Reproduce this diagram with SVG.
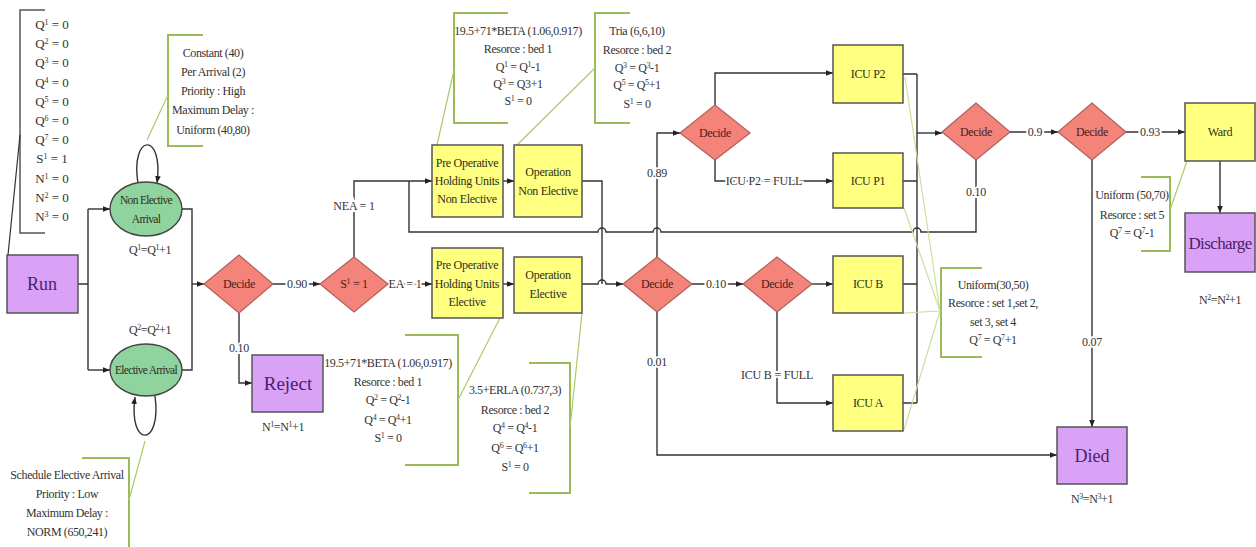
<svg xmlns="http://www.w3.org/2000/svg" width="1256" height="547" viewBox="0 0 1256 547" font-family="'Liberation Serif', 'Times New Roman', serif">
<style>
.ln{fill:none;stroke:#333;stroke-width:1.4}
.gb{fill:none;stroke:#9bbb59;stroke-width:2}
.gl{fill:none;stroke:#a9cc6a;stroke-width:1.2}
.gl2{fill:none;stroke:#c8e29a;stroke-width:1.2}
text{font-family:"Liberation Serif","Times New Roman",serif;text-anchor:middle;fill:#333}
.t{font-size:12px;letter-spacing:-0.4px}
.v{font-size:13px}
.lb{font-size:12px;letter-spacing:-0.2px;paint-order:stroke;stroke:#fff;stroke-width:4px}
.nt{font-size:12px;letter-spacing:-0.3px;fill:#2f2f20}
.et{font-size:11.5px;letter-spacing:-0.7px;fill:#2f2f20}
.dt{font-size:12px;letter-spacing:-0.3px;fill:#4a1d1d}
.pt{fill:#4b1d6b}
.y{fill:#ffff80;stroke:#555;stroke-width:1.5}
.p{fill:#d9a2f7;stroke:#555;stroke-width:1.5}
.d{fill:#f4847a;stroke:#b0605a;stroke-width:1.2}
.e{fill:#8fd39f;stroke:#444;stroke-width:1.4}
.s{font-size:8px;baseline-shift:super}
</style>
<defs>
<marker id="ah" viewBox="0 0 10 10" refX="10" refY="5" markerWidth="7" markerHeight="7" orient="auto" markerUnits="userSpaceOnUse"><path d="M0,1 L10,5 L0,9z" fill="#222"/></marker>
</defs>

<g id="connectors">
<path class="ln" d="M78,284 H88 M88,209 V370"/>
<path class="ln" marker-end="url(#ah)" d="M88,209 H110"/>
<path class="ln" marker-end="url(#ah)" d="M88,370 H110"/>
<path class="ln" d="M182,209 H192 V370 H182"/>
<path class="ln" marker-end="url(#ah)" d="M192,284 H204"/>
<path class="ln" marker-end="url(#ah)" d="M138,184 C130,132 164,132 157,183"/>
<path class="ln" marker-end="url(#ah)" d="M155,396 C162,448 128,448 135,397"/>
<path class="ln" marker-end="url(#ah)" d="M273,284 H320"/>
<path class="ln" marker-end="url(#ah)" d="M239,313 V383 H252"/>
<path class="ln" marker-end="url(#ah)" d="M354,257 V181 H432"/>
<path class="ln" marker-end="url(#ah)" d="M388,284 H432"/>
<path class="ln" marker-end="url(#ah)" d="M503,181 H514"/>
<path class="ln" marker-end="url(#ah)" d="M503,284 H514"/>
<path class="ln" d="M582,181 H602 V284"/>
<path class="ln" marker-end="url(#ah)" d="M582,284 H598 a4,4 0 0 1 8,0 H623"/>
<path class="ln" d="M976,160 V232 H921 a4,4 0 0 0 -8,0 H661 a4,4 0 0 0 -8,0 H606 a4,4 0 0 0 -8,0 H409 V181"/>
<path class="ln" marker-end="url(#ah)" d="M657,257 V133 H680"/>
<path class="ln" marker-end="url(#ah)" d="M692,284 H743"/>
<path class="ln" marker-end="url(#ah)" d="M657,312 V455 H1057"/>
<path class="ln" marker-end="url(#ah)" d="M715,105 V73 H833"/>
<path class="ln" marker-end="url(#ah)" d="M715,160 V181 H833"/>
<path class="ln" marker-end="url(#ah)" d="M812,284 H833"/>
<path class="ln" marker-end="url(#ah)" d="M777,312 V403 H833"/>
<path class="ln" d="M903,74 H917 M903,181 H917 M903,284 H917 M903,403 H917 M917,74 V403"/>
<path class="ln" marker-end="url(#ah)" d="M917,133 H942"/>
<path class="ln" marker-end="url(#ah)" d="M1010,132 H1058"/>
<path class="ln" marker-end="url(#ah)" d="M1126,132 H1185"/>
<path class="ln" marker-end="url(#ah)" d="M1092,160 V427"/>
<path class="ln" marker-end="url(#ah)" d="M1220,161 V213"/>
<text class="lb" x="297" y="288">0.90</text>
<text class="lb" x="239" y="352">0.10</text>
<text class="lb" x="354" y="210">NEA = 1</text>
<text class="lb" x="405" y="288">EA = 1</text>
<text class="lb" x="657" y="177">0.89</text>
<text class="lb" x="716" y="288">0.10</text>
<text class="lb" x="657" y="366">0.01</text>
<text class="lb" x="764" y="185">ICU P2 = FULL</text>
<text class="lb" x="777" y="379">ICU B = FULL</text>
<text class="lb" x="976" y="196">0.10</text>
<text class="lb" x="1035" y="136">0.9</text>
<text class="lb" x="1150" y="136">0.93</text>
<text class="lb" x="1092" y="346">0.07</text>
</g>

<g id="annotations">
<path d="M45,10 H20 V233 H45" fill="none" stroke="#555" stroke-width="1.5"/>
<path d="M20,135 L8,255" fill="none" stroke="#333" stroke-width="1.2"/>
<g class="v">
<text x="52" y="29">Q<tspan class="s">1</tspan> = 0</text>
<text x="52" y="48">Q<tspan class="s">2</tspan> = 0</text>
<text x="52" y="67">Q<tspan class="s">3</tspan> = 0</text>
<text x="52" y="87">Q<tspan class="s">4</tspan> = 0</text>
<text x="52" y="106">Q<tspan class="s">5</tspan> = 0</text>
<text x="52" y="125">Q<tspan class="s">6</tspan> = 0</text>
<text x="52" y="144">Q<tspan class="s">7</tspan> = 0</text>
<text x="52" y="163">S<tspan class="s">1</tspan> = 1</text>
<text x="52" y="183">N<tspan class="s">1</tspan> = 0</text>
<text x="52" y="202">N<tspan class="s">2</tspan> = 0</text>
<text x="52" y="221">N<tspan class="s">3</tspan> = 0</text>
</g>

<path class="gb" d="M203,35 H168 V146 H203"/>
<path class="gl" d="M168,95 L147,140"/>
<g class="t">
<text x="213" y="57">Constant (40)</text>
<text x="213" y="76">Per Arrival (2)</text>
<text x="213" y="95">Priority : High</text>
<text x="213" y="114">Maximum Delay :</text>
<text x="213" y="134">Uniform (40,80)</text>
</g>

<path class="gb" d="M82,458 H129 V547"/>
<path class="gl" d="M129,500 L145,441"/>
<g class="t">
<text x="67" y="479">Schedule Elective Arrival</text>
<text x="67" y="498">Priority : Low</text>
<text x="67" y="517">Maximum Delay :</text>
<text x="67" y="536">NORM (650,241)</text>
</g>

<path class="gb" d="M508,13 H454 V123 H508"/>
<path class="gl" d="M454,70 L437,145"/>
<g class="t">
<text x="518" y="35">19.5+71*BETA (1.06,0.917)</text>
<text x="518" y="53">Resorce : bed 1</text>
<text x="518" y="71">Q<tspan class="s">1</tspan> = Q<tspan class="s">1</tspan>-1</text>
<text x="518" y="88">Q<tspan class="s">3</tspan> = Q3+1</text>
<text x="518" y="105">S<tspan class="s">1</tspan> = 0</text>
</g>

<path class="gb" d="M630,13 H595 V123 H630"/>
<path class="gl" d="M595,68 L517,145"/>
<g class="t">
<text x="637" y="35">Tria (6,6,10)</text>
<text x="637" y="54">Resorce : bed 2</text>
<text x="637" y="72">Q<tspan class="s">3</tspan> = Q<tspan class="s">3</tspan>-1</text>
<text x="637" y="89">Q<tspan class="s">5</tspan> = Q<tspan class="s">5</tspan>+1</text>
<text x="637" y="108">S<tspan class="s">1</tspan> = 0</text>
</g>

<path class="gb" d="M405,335 H458 V465 H405"/>
<path class="gl" d="M458,400 L500,318"/>
<g class="t">
<text x="388" y="367">19.5+71*BETA (1.06,0.917)</text>
<text x="388" y="386">Resorce : bed 1</text>
<text x="388" y="404">Q<tspan class="s">2</tspan> = Q<tspan class="s">2</tspan>-1</text>
<text x="388" y="424">Q<tspan class="s">4</tspan> = Q<tspan class="s">4</tspan>+1</text>
<text x="388" y="442">S<tspan class="s">1</tspan> = 0</text>
</g>

<path class="gb" d="M529,363 H570 V493 H529"/>
<path class="gl" d="M570,428 L582,313"/>
<g class="t">
<text x="515" y="394">3.5+ERLA (0.737,3)</text>
<text x="515" y="414">Resorce : bed 2</text>
<text x="515" y="432">Q<tspan class="s">4</tspan> = Q<tspan class="s">4</tspan>-1</text>
<text x="515" y="452">Q<tspan class="s">6</tspan> = Q<tspan class="s">6</tspan>+1</text>
<text x="515" y="471">S<tspan class="s">1</tspan> = 0</text>
</g>

<path class="gb" d="M982,268 H941 V357 H982"/>
<path class="gl2" d="M905,77 L940,311 M904,208 L940,311 M904,313 L940,311 M904,430 L940,311"/>
<g class="t">
<text x="993" y="289">Uniform(30,50)</text>
<text x="993" y="307">Resorce : set 1,set 2,</text>
<text x="993" y="326">set 3, set 4</text>
<text x="993" y="344">Q<tspan class="s">7</tspan> = Q<tspan class="s">7</tspan>+1</text>
</g>

<path class="gb" d="M1141,177 H1170 V251 H1141"/>
<path class="gl" d="M1170,210 L1187,161"/>
<g class="t">
<text x="1132" y="199">Uniform (50,70)</text>
<text x="1132" y="219">Resorce : set 5</text>
<text x="1132" y="237">Q<tspan class="s">7</tspan> = Q<tspan class="s">7</tspan>-1</text>
</g>
</g>

<g id="run"><rect class="p" x="7" y="255" width="71" height="58"/><text class="pt" x="42" y="290" font-size="18">Run</text></g>
<g id="non-elective-arrival"><ellipse class="e" cx="146" cy="209" rx="36" ry="27"/><text class="et" x="146" y="204">Non Elective</text><text class="et" x="146" y="223">Arrival</text>
<text class="t" x="150" y="254">Q<tspan class="s">1</tspan>=Q<tspan class="s">1</tspan>+1</text></g>
<g id="elective-arrival"><ellipse class="e" cx="146" cy="370" rx="36" ry="26"/><text class="et" x="146" y="374">Elective Arrival</text>
<text class="t" x="150" y="334">Q<tspan class="s">2</tspan>=Q<tspan class="s">2</tspan>+1</text></g>
<g id="decide-1"><polygon class="d" points="204,284 239,255 273,284 239,313"/><text class="dt" x="239" y="288">Decide</text></g>
<g id="reject"><rect class="p" x="252" y="355" width="71" height="57"/><text class="pt" x="288" y="390" font-size="19">Reject</text>
<text class="t" x="283" y="431">N<tspan class="s">1</tspan>=N<tspan class="s">1</tspan>+1</text></g>
<g id="s1"><polygon class="d" points="320,284 354,257 388,284 354,312"/><text class="dt" x="354" y="288">S<tspan class="s">1</tspan> = 1</text></g>
<g id="preop-ne"><rect class="y" x="432" y="145" width="71" height="72"/><text class="nt" x="467" y="167">Pre Operative</text><text class="nt" x="467" y="185">Holding Units</text><text class="nt" x="467" y="203">Non Elective</text></g>
<g id="op-ne"><rect class="y" x="514" y="145" width="68" height="72"/><text class="nt" x="548" y="176">Operation</text><text class="nt" x="548" y="195">Non Elective</text></g>
<g id="preop-e"><rect class="y" x="432" y="248" width="71" height="70"/><text class="nt" x="467" y="269">Pre Operative</text><text class="nt" x="467" y="288">Holding Units</text><text class="nt" x="467" y="306">Elective</text></g>
<g id="op-e"><rect class="y" x="514" y="257" width="68" height="56"/><text class="nt" x="548" y="279">Operation</text><text class="nt" x="548" y="298">Elective</text></g>
<g id="decide-2"><polygon class="d" points="623,284 657,257 692,284 657,312"/><text class="dt" x="657" y="288">Decide</text></g>
<g id="decide-3"><polygon class="d" points="680,133 715,105 750,133 715,160"/><text class="dt" x="715" y="137">Decide</text></g>
<g id="decide-4"><polygon class="d" points="743,284 777,257 812,284 777,312"/><text class="dt" x="777" y="288">Decide</text></g>
<g id="icu-p2"><rect class="y" x="833" y="45" width="70" height="58"/><text class="nt" x="868" y="78">ICU P2</text></g>
<g id="icu-p1"><rect class="y" x="833" y="153" width="70" height="55"/><text class="nt" x="868" y="185">ICU P1</text></g>
<g id="icu-b"><rect class="y" x="833" y="256" width="70" height="57"/><text class="nt" x="868" y="288">ICU B</text></g>
<g id="icu-a"><rect class="y" x="833" y="375" width="70" height="56"/><text class="nt" x="868" y="407">ICU A</text></g>
<g id="decide-5"><polygon class="d" points="942,132 976,103 1010,132 976,160"/><text class="dt" x="976" y="136">Decide</text></g>
<g id="decide-6"><polygon class="d" points="1058,132 1092,103 1126,132 1092,160"/><text class="dt" x="1092" y="136">Decide</text></g>
<g id="ward"><rect class="y" x="1185" y="103" width="70" height="58"/><text class="nt" x="1220" y="136">Ward</text></g>
<g id="discharge"><rect class="p" x="1185" y="213" width="70" height="59"/><text class="pt" x="1220" y="249" font-size="17" letter-spacing="-0.6">Discharge</text>
<text class="t" x="1220" y="304">N<tspan class="s">2</tspan>=N<tspan class="s">2</tspan>+1</text></g>
<g id="died"><rect class="p" x="1057" y="427" width="70" height="57"/><text class="pt" x="1092" y="462" font-size="18">Died</text>
<text class="t" x="1092" y="503">N<tspan class="s">3</tspan>=N<tspan class="s">3</tspan>+1</text></g>
</svg>
